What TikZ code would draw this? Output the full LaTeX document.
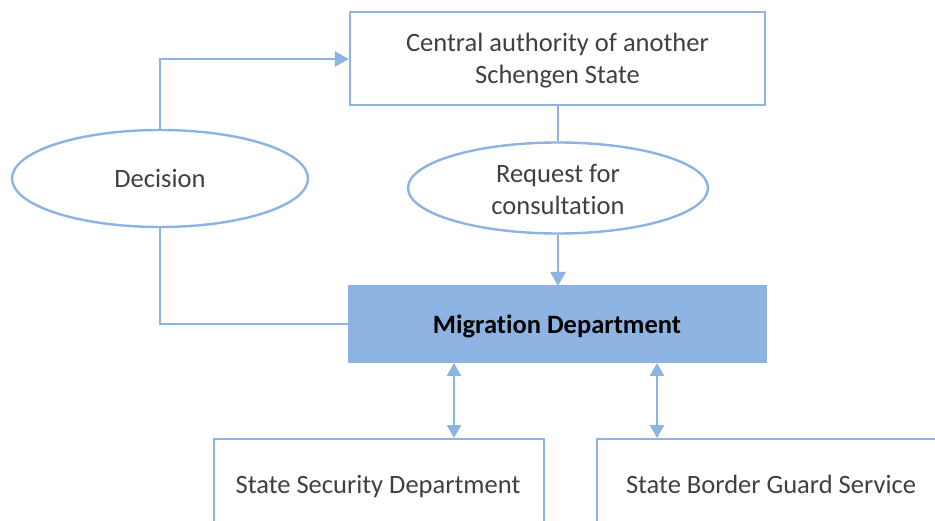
\documentclass[tikz,border=0pt]{standalone}
\usepackage{fontspec}
\setmainfont{Carlito}[RawFeature=-liga]
\usetikzlibrary{shapes.geometric,arrows.meta}
\definecolor{lineblue}{HTML}{8DB3E2}
\definecolor{txtgray}{HTML}{404040}
\begin{document}
\begin{tikzpicture}[x=1pt,y=-1pt,
  box/.style={draw=lineblue,line width=2.4pt,fill=white,inner sep=0pt,text=txtgray,align=center,font=\fontsize{26.5}{32}\selectfont},
  oval/.style={ellipse,draw=lineblue,line width=2.4pt,fill=white,inner sep=0pt,text=txtgray,align=center,font=\fontsize{26.5}{32}\selectfont},
  lbl/.style={text=txtgray,align=center,font=\fontsize{26.5}{32}\selectfont},
  conn/.style={draw=lineblue,line width=2.6pt},
  tip/.style={-{Triangle[length=14pt,width=15pt]}},
  dtip/.style={{Triangle[length=13pt,width=14pt]}-{Triangle[length=13pt,width=14pt]}}
]
\useasboundingbox (0,0) rectangle (935,521);
\fill[white] (0,0) rectangle (935,521);
% nodes
\node[box,minimum width=415pt,minimum height=93pt] (central) at (557.5,58.5) {};
\node[lbl] (centralt) at (557.5,61) {Central authority of another\\Schengen State};
\node[oval,minimum width=296pt,minimum height=97pt] (decision) at (160,178.5) {Decision};
\node[oval,minimum width=300pt,minimum height=91pt] (request) at (558,188) {};
\node[lbl] (requestt) at (558,189.5) {Request for\\consultation};
\node[draw=lineblue,fill=lineblue,line width=0pt,minimum width=418pt,minimum height=77pt,inner sep=0pt,font=\fontsize{26.5}{32}\selectfont\bfseries,text=black] (migr) at (557,324.5) {};
\node[font=\fontsize{26.5}{32}\selectfont\bfseries,text=black] (migrt) at (557,326) {Migration Department};
\node[box,minimum width=330pt,minimum height=120pt,anchor=north west] (ssd) at (213,438) {};
\node[box,minimum width=380pt,minimum height=120pt,anchor=north west] (sbgs) at (596,438) {};
\node[lbl,anchor=base] (ssdt) at (378,493) {State Security Department};
\node[lbl,anchor=base] (sbgst) at (771,493) {State Border Guard Service};
% connectors
\coordinate (d1) at (160,59);
\coordinate (d2) at (160,324);
\draw[conn,tip] (decision.north) -- (d1) -- (central.west |- d1);
\draw[conn] (decision.south) -- (d2) -- (migr.west |- d2);
\draw[conn] (central.south -| request.north) -- (request.north);
\draw[conn,tip] (request.south) -- (request.south |- migr.north);
\coordinate (b1) at (454,0);
\coordinate (b2) at (657,0);
\draw[conn,dtip] (b1 |- migr.south) -- (b1 |- ssd.north);
\draw[conn,dtip] (b2 |- migr.south) -- (b2 |- sbgs.north);
\end{tikzpicture}
\end{document}
